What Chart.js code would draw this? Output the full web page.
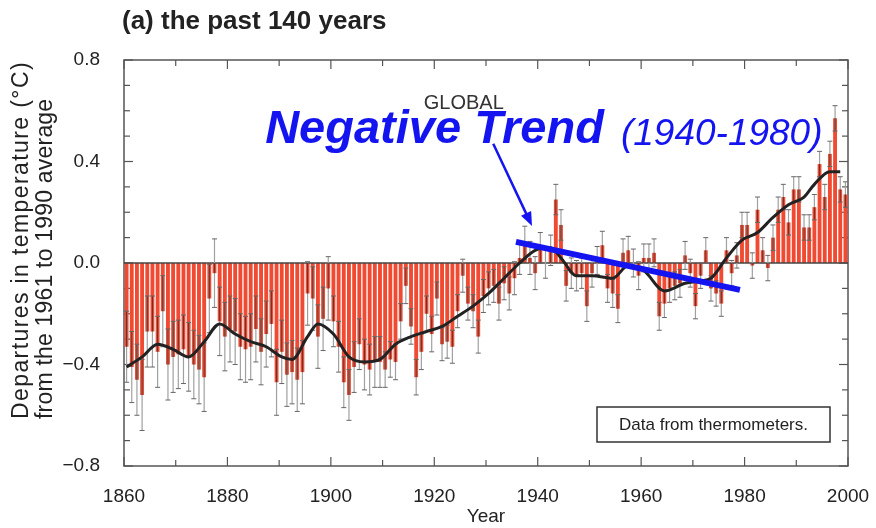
<!DOCTYPE html>
<html>
<head>
<meta charset="utf-8">
<script src="https://cdn.jsdelivr.net/npm/chart.js@4.4.1/dist/chart.umd.min.js"></script>
<style>
  html, body { margin: 0; padding: 0; background: #fff; }
</style>
</head>
<body>
<canvas id="tempChart" width="876" height="528"></canvas>
<script>
// annual global temperature departures (degC, vs 1961-1990), one per year from firstYear
const firstYear = 1861;
const anomalies = [
  -0.33, -0.41, -0.46, -0.52, -0.27, -0.27, -0.35, -0.19, -0.40, -0.37,   // 1861-1870
  -0.36, -0.34, -0.37, -0.40, -0.42, -0.45, -0.14, -0.04, -0.23, -0.29,   // 1871-1880
  -0.26, -0.27, -0.33, -0.34, -0.33, -0.26, -0.35, -0.28, -0.24, -0.47,   // 1881-1890
  -0.35, -0.44, -0.43, -0.46, -0.43, -0.12, -0.14, -0.29, -0.22, -0.10,   // 1891-1900
  -0.23, -0.33, -0.47, -0.52, -0.41, -0.32, -0.40, -0.42, -0.39, -0.39,   // 1901-1910
  -0.42, -0.38, -0.39, -0.23, -0.09, -0.25, -0.45, -0.35, -0.20, -0.28,   // 1911-1920
  -0.14, -0.32, -0.31, -0.33, -0.19, -0.05, -0.16, -0.19, -0.29, -0.13,   // 1921-1930
  -0.10, -0.09, -0.16, -0.08, -0.12, -0.06, 0.02, 0.08, 0.02, -0.04,      // 1931-1940
  0.06, 0.00, 0.05, 0.25, 0.15, -0.09, -0.04, -0.05, -0.04, -0.17,        // 1941-1950
  -0.04, 0.01, 0.07, -0.10, -0.12, -0.18, 0.04, 0.05, 0.00, -0.05,        // 1951-1960
  0.02, 0.02, 0.04, -0.21, -0.16, -0.10, -0.09, -0.08, 0.03, -0.04,       // 1961-1970
  -0.17, -0.05, 0.05, -0.10, -0.12, -0.16, 0.05, -0.04, 0.03, 0.15,       // 1971-1980
  0.15, -0.01, 0.21, 0.05, -0.02, 0.10, 0.21, 0.26, 0.16, 0.29,           // 1981-1990
  0.29, 0.14, 0.14, 0.22, 0.39, 0.26, 0.43, 0.57, 0.29, 0.27              // 1991-2000
];
// half-length of the uncertainty whiskers, one per decade (1861-1870 ... 1991-2000)
const errByDecade = [0.14, 0.135, 0.13, 0.125, 0.10, 0.07, 0.065, 0.065, 0.06, 0.055, 0.055, 0.05, 0.05, 0.05];

// smoothed curve (black line)
const smoothYears  = [1861, 1864, 1867, 1870, 1873, 1876, 1879, 1882, 1885, 1888, 1891, 1893, 1896, 1898,
                      1901, 1904, 1907, 1910, 1913, 1916, 1919, 1922, 1925, 1928, 1931, 1934, 1937, 1940,
                      1943, 1945, 1948, 1951, 1955, 1958, 1961, 1965, 1969, 1972, 1974, 1977, 1980, 1983,
                      1986, 1989, 1992, 1994, 1997, 1999];
const smoothValues = [-0.41, -0.37, -0.32, -0.34, -0.37, -0.31, -0.24, -0.28, -0.31, -0.33, -0.37, -0.38, -0.29, -0.24,
                      -0.28, -0.37, -0.39, -0.38, -0.32, -0.29, -0.27, -0.25, -0.21, -0.17, -0.12, -0.06, 0.00, 0.05,
                      0.06, 0.02, -0.05, -0.05, -0.06, -0.01, -0.03, -0.11, -0.08, -0.07, -0.06, 0.02, 0.09, 0.12,
                      0.18, 0.23, 0.26, 0.31, 0.36, 0.36];

// hand-drawn blue trend line
const trendYears  = [1935.8, 1979.1];
const trendValues = [0.083, -0.106];

// axis ticks and titles
const xTicks = [1860, 1880, 1900, 1920, 1940, 1960, 1980, 2000];
const yTicks = [-0.8, -0.4, 0.0, 0.4, 0.8];
const yTitleLines = ['Departures in temperature (\u00B0C)', 'from the 1961 to 1990 average'];

const barData = anomalies.map((v, i) => ({ x: firstYear + i - 0.5, y: v }));
const errData = anomalies.map((v, i) => errByDecade[Math.floor(i / 10)]);
const smoothData = smoothYears.map((yr, i) => ({ x: yr - 0.5, y: smoothValues[i] }));
const trendData = trendYears.map((yr, i) => ({ x: yr, y: trendValues[i] }));

const FONT = "'Liberation Sans', Arial, Helvetica, sans-serif";
const BLUE = '#1414f0';

function seg(ctx, x1, y1, x2, y2) {
  ctx.beginPath();
  ctx.moveTo(x1, y1);
  ctx.lineTo(x2, y2);
  ctx.stroke();
}

const decorations = {
  id: 'decorations',
  beforeDatasetsDraw(chart) {
    const { ctx, chartArea: a, scales: { x, y } } = chart;
    ctx.save();
    ctx.strokeStyle = '#555';
    ctx.lineWidth = 1.2;
    // inward ticks on all four sides
    for (let yr = xTicks[0]; yr <= xTicks[xTicks.length - 1]; yr += 10) {
      const px = x.getPixelForValue(yr);
      const len = yr % 20 === 0 ? 9 : 6;
      seg(ctx, px, a.bottom, px, a.bottom - len);
      seg(ctx, px, a.top, px, a.top + len);
    }
    for (let k = -8; k <= 8; k++) {
      const py = y.getPixelForValue(k / 10);
      const len = k % 4 === 0 ? 9 : 6;
      seg(ctx, a.left, py, a.left + len, py);
      seg(ctx, a.right, py, a.right - len, py);
    }
    ctx.lineWidth = 1.5;
    ctx.strokeRect(a.left, a.top, a.right - a.left, a.bottom - a.top);
    ctx.restore();
  },
  afterDatasetDraw(chart, args) {
    if (args.index !== 0) return;
    const { ctx, chartArea: a, scales: { y } } = chart;
    const y0 = y.getPixelForValue(0);
    ctx.save();
    // zero line
    ctx.strokeStyle = '#444';
    ctx.lineWidth = 1.5;
    seg(ctx, a.left, y0, a.right, y0);
    // whiskers
    args.meta.data.forEach((el, i) => {
      const v = anomalies[i], e = errData[i];
      const pTop = y.getPixelForValue(v + e);
      const pBot = y.getPixelForValue(v - e);
      ctx.lineWidth = 1.2;
      ctx.strokeStyle = '#a0a0a0';
      seg(ctx, el.x, pTop, el.x, pBot);
      // part of the whisker lying over the red bar
      let inA, inB;
      if (v < 0) { inA = v; inB = Math.min(v + e, 0); }
      else { inA = Math.max(v - e, 0); inB = v; }
      ctx.strokeStyle = '#7a2e22';
      seg(ctx, el.x, y.getPixelForValue(inA), el.x, y.getPixelForValue(inB));
      ctx.strokeStyle = '#666';
      ctx.lineWidth = 1;
      seg(ctx, el.x - 2.5, pTop, el.x + 2.5, pTop);
      seg(ctx, el.x - 2.5, pBot, el.x + 2.5, pBot);
    });
    ctx.restore();
  },
  afterDraw(chart) {
    const { ctx, chartArea: a, scales: { x, y } } = chart;
    ctx.save();
    // panel title
    ctx.fillStyle = '#222';
    ctx.font = `bold 26px ${FONT}`;
    ctx.textAlign = 'left';
    ctx.textBaseline = 'alphabetic';
    ctx.fillText('(a) the past 140 years', a.left - 2, 29);

    // y axis title, two rotated lines starting from the same bottom point
    ctx.save();
    ctx.translate(0, 419);
    ctx.rotate(-Math.PI / 2);
    ctx.font = `23px ${FONT}`;
    ctx.textBaseline = 'middle';
    ctx.letterSpacing = '1.4px';
    ctx.fillText(yTitleLines[0], 0, 22);
    ctx.letterSpacing = '0.2px';
    ctx.fillText(yTitleLines[1], 0, 46);
    ctx.restore();

    // GLOBAL label
    ctx.fillStyle = '#333';
    ctx.font = `20px ${FONT}`;
    ctx.textAlign = 'center';
    ctx.fillText('GLOBAL', x.getPixelForValue(1925.7), y.getPixelForValue(0.607));

    // Negative Trend annotation
    ctx.fillStyle = BLUE;
    ctx.textAlign = 'left';
    ctx.font = `italic bold 47px ${FONT}`;
    const tx = x.getPixelForValue(1887.3), ty = y.getPixelForValue(0.472);
    ctx.fillText('Negative Trend', tx, ty);
    const w = ctx.measureText('Negative Trend ').width;
    ctx.font = `italic 37px ${FONT}`;
    ctx.fillText('(1940-1980)', tx + w + 4, ty + 2);

    // arrow
    const ax1 = x.getPixelForValue(1931.4), ay1 = y.getPixelForValue(0.47);
    const ax2 = x.getPixelForValue(1938.9), ay2 = y.getPixelForValue(0.146);
    const ang = Math.atan2(ay2 - ay1, ax2 - ax1);
    const head = 15;
    ctx.strokeStyle = BLUE;
    ctx.lineWidth = 2.5;
    seg(ctx, ax1, ay1, ax2 - head * 0.8 * Math.cos(ang), ay2 - head * 0.8 * Math.sin(ang));
    ctx.beginPath();
    ctx.moveTo(ax2, ay2);
    ctx.lineTo(ax2 - head * Math.cos(ang - 0.38), ay2 - head * Math.sin(ang - 0.38));
    ctx.lineTo(ax2 - head * Math.cos(ang + 0.38), ay2 - head * Math.sin(ang + 0.38));
    ctx.closePath();
    ctx.fill();

    // data source box
    const bw = 233, bh = 35;
    const bx = a.right - 18 - bw, by = a.bottom - 24 - bh;
    ctx.fillStyle = '#fff';
    ctx.fillRect(bx, by, bw, bh);
    ctx.strokeStyle = '#333';
    ctx.lineWidth = 1.5;
    ctx.strokeRect(bx, by, bw, bh);
    ctx.fillStyle = '#222';
    ctx.font = `17px ${FONT}`;
    ctx.textAlign = 'center';
    ctx.textBaseline = 'middle';
    ctx.fillText('Data from thermometers.', bx + bw / 2, by + bh / 2 + 1);
    ctx.restore();
  }
};

new Chart(document.getElementById('tempChart'), {
  type: 'bar',
  data: {
    datasets: [
      {
        type: 'bar',
        data: barData,
        backgroundColor: '#f04a32',
        borderWidth: 0,
        barPercentage: 0.75,
        categoryPercentage: 1.0,
        order: 3
      },
      {
        type: 'line',
        data: smoothData,
        borderColor: '#222',
        borderWidth: 3,
        pointRadius: 0,
        cubicInterpolationMode: 'monotone',
        fill: false,
        order: 2
      },
      {
        type: 'line',
        data: trendData,
        borderColor: BLUE,
        borderWidth: 6,
        pointRadius: 0,
        fill: false,
        order: 1
      }
    ]
  },
  options: {
    responsive: false,
    animation: false,
    layout: { padding: { top: 60, right: 28, left: 0, bottom: 0 } },
    plugins: {
      legend: { display: false },
      tooltip: { enabled: false },
      title: { display: false }
    },
    scales: {
      x: {
        type: 'linear',
        offset: false,
        min: xTicks[0],
        max: xTicks[xTicks.length - 1],
        grid: { display: false, offset: false },
        border: { display: false },
        afterBuildTicks: (scale) => { scale.ticks = xTicks.map(v => ({ value: v })); },
        ticks: {
          color: '#222',
          font: { family: FONT, size: 19 },
          padding: 11,
          maxRotation: 0,
          callback: (v) => String(v)
        },
        title: {
          display: true,
          text: 'Year',
          color: '#222',
          font: { family: FONT, size: 19, lineHeight: 1.2 },
          padding: { top: 0, bottom: 0 }
        },
        afterFit: (scale) => {
          scale.height = 62;
          scale.paddingLeft = 0;
          scale.paddingRight = 0;
        }
      },
      y: {
        min: yTicks[0],
        max: yTicks[yTicks.length - 1],
        grid: { display: false },
        border: { display: false },
        afterBuildTicks: (scale) => { scale.ticks = yTicks.map(v => ({ value: v })); },
        ticks: {
          color: '#222',
          font: { family: FONT, size: 19 },
          padding: 16,
          callback: (v) => {
            const r = Math.round(v * 10) / 10;
            return (r < 0 ? '\u2212' : '') + Math.abs(r).toFixed(1);
          }
        },
        title: { display: false },
        afterFit: (scale) => { scale.width = 124; }
      }
    }
  },
  plugins: [decorations]
});
</script>
</body>
</html>
